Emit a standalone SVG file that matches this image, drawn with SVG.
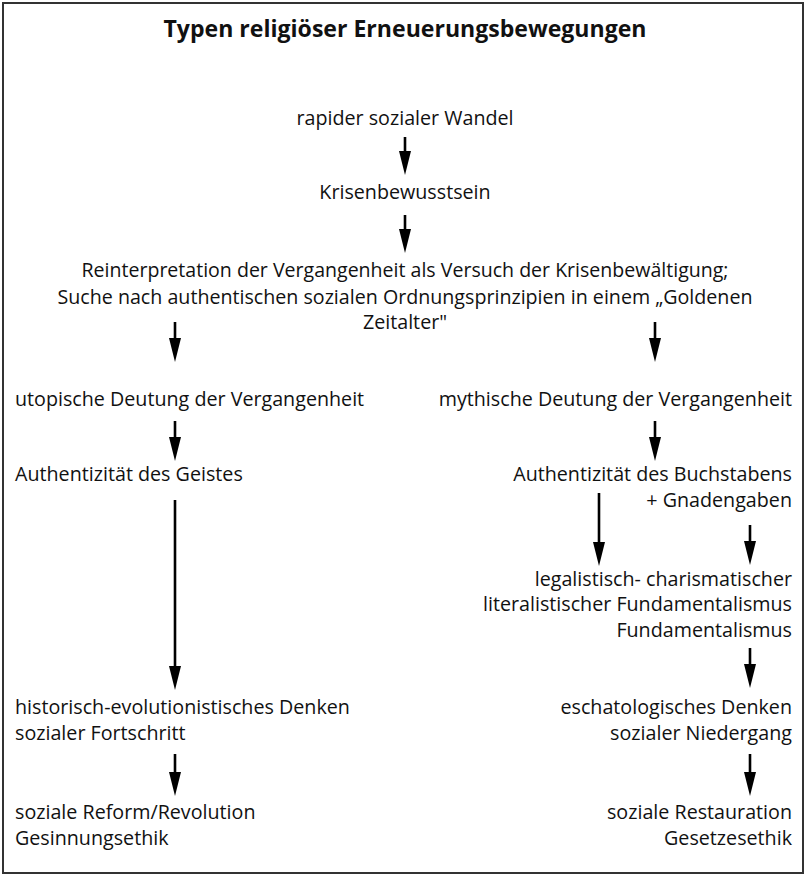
<svg xmlns="http://www.w3.org/2000/svg" width="809" height="877" viewBox="0 0 809 877">
<style>
  .t { font-family: "Open Sans", "Noto Sans", "DejaVu Sans", sans-serif; font-size: 19.7px; fill: #111; }
  .c { text-anchor: middle; }
  .r { text-anchor: end; }
  .title { font-family: "Open Sans", "Noto Sans", "DejaVu Sans", sans-serif; font-size: 23px; font-weight: bold; fill: #111; text-anchor: middle; }
  .arr { stroke: #000; stroke-width: 2.6; fill: none; marker-end: url(#ah); }
</style>
<defs>
  <marker id="ah" markerUnits="userSpaceOnUse" viewBox="0 -6 24 12" refX="14" refY="0" markerWidth="24" markerHeight="12" orient="auto">
    <path d="M0,-6 L24,0 L0,6 Z" fill="#000"/>
  </marker>
</defs>
<rect x="3" y="3" width="800" height="870" fill="#fff" stroke="#333" stroke-width="2"/>
<text class="title" x="405" y="37" textLength="483" lengthAdjust="spacingAndGlyphs">Typen religiöser Erneuerungsbewegungen</text>

<g id="connectors">
  <line class="arr" x1="405" y1="137" x2="405" y2="165"/>
  <line class="arr" x1="405" y1="215" x2="405" y2="243"/>
  <line class="arr" x1="175" y1="322" x2="175" y2="352"/>
  <line class="arr" x1="655" y1="322" x2="655" y2="352"/>
  <line class="arr" x1="175" y1="421" x2="175" y2="451"/>
  <line class="arr" x1="655" y1="421" x2="655" y2="451"/>
  <line class="arr" x1="175" y1="500" x2="175" y2="680"/>
  <line class="arr" x1="599" y1="493" x2="599" y2="556"/>
  <line class="arr" x1="750" y1="525" x2="750" y2="555"/>
  <line class="arr" x1="750" y1="648" x2="750" y2="678"/>
  <line class="arr" x1="175" y1="754" x2="175" y2="786"/>
  <line class="arr" x1="750" y1="754" x2="750" y2="786"/>
</g>

<g id="n1"><text class="t c" x="405" y="125">rapider sozialer Wandel</text></g>
<g id="n2"><text class="t c" x="405" y="199">Krisenbewusstsein</text></g>
<g id="n3">
  <text class="t c" x="405" y="277" textLength="647" lengthAdjust="spacingAndGlyphs">Reinterpretation der Vergangenheit als Versuch der Krisenbewältigung;</text>
  <text class="t c" x="405" y="304" textLength="695" lengthAdjust="spacingAndGlyphs">Suche nach authentischen sozialen Ordnungsprinzipien in einem „Goldenen</text>
  <text class="t c" x="405" y="329">Zeitalter"</text>
</g>
<g id="n4"><text class="t" x="15" y="406">utopische Deutung der Vergangenheit</text></g>
<g id="n5"><text class="t r" x="792" y="406">mythische Deutung der Vergangenheit</text></g>
<g id="n6"><text class="t" x="15" y="481">Authentizität des Geistes</text></g>
<g id="n7">
  <text class="t r" x="792" y="481">Authentizität des Buchstabens</text>
  <text class="t r" x="792" y="507">+ Gnadengaben</text>
</g>
<g id="n8">
  <text class="t r" x="792" y="586">legalistisch- charismatischer</text>
  <text class="t r" x="792" y="611">literalistischer Fundamentalismus</text>
  <text class="t r" x="792" y="637">Fundamentalismus</text>
</g>
<g id="n9">
  <text class="t" x="15" y="714">historisch-evolutionistisches Denken</text>
  <text class="t" x="15" y="740">sozialer Fortschritt</text>
</g>
<g id="n10">
  <text class="t r" x="792" y="714">eschatologisches Denken</text>
  <text class="t r" x="792" y="740">sozialer Niedergang</text>
</g>
<g id="n11">
  <text class="t" x="15" y="819">soziale Reform/Revolution</text>
  <text class="t" x="15" y="845">Gesinnungsethik</text>
</g>
<g id="n12">
  <text class="t r" x="792" y="819">soziale Restauration</text>
  <text class="t r" x="792" y="845">Gesetzesethik</text>
</g>
</svg>
